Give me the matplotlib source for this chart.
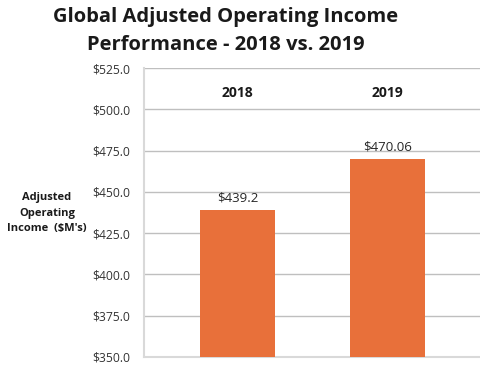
import matplotlib
matplotlib.use("Agg")
from matplotlib import pyplot as plt
from matplotlib.ticker import FuncFormatter

# data
years = ["2018", "2019"]
income = [439.2, 470.06]
value_labels = ["$439.2", "$470.06"]
y_ticks = [350, 375, 400, 425, 450, 475, 500, 525]

plt.rcParams['font.family'] = ['Open Sans', 'DejaVu Sans']

fig = plt.figure(figsize=(4.81, 3.65), dpi=100)
ax = fig.add_axes([144/481, 1-357/365, (481-144)/481, (357-68)/365])

x = range(len(years))
ax.bar(x, income, width=0.5, color='#e8703a', zorder=3)
ax.set_xlim(-0.623, 1.623)
ax.set_ylim(350, 525)
ax.set_yticks(y_ticks)
ax.yaxis.set_major_formatter(FuncFormatter(lambda v, p: f"${v:.1f}"))
ax.tick_params(axis='y', length=0, pad=10, labelsize=8.7, labelcolor='#333333')
ax.set_xticks([])
ax.grid(axis='y', color='#bfbfbf', linewidth=1, zorder=0)

for s in ['top', 'right']:
    ax.spines[s].set_visible(False)
for s in ['left', 'bottom']:
    ax.spines[s].set_color('#d9d9d9')
    ax.spines[s].set_linewidth(1.5)

# category labels across the top
for i, yr in enumerate(years):
    ax.text(i, 510, yr, ha='center', va='center', fontsize=10, fontweight='bold', color='#1a1a1a')
    ax.text(i, income[i] + 3, value_labels[i], ha='center', va='bottom', fontsize=9.5, color='#262626')

fig.text(47/481, 1-213/365, "Adjusted\nOperating\nIncome  ($M's)", ha='center', va='center',
         fontsize=8, fontweight='bold', color='#1a1a1a', linespacing=1.6)

fig.text(226/481, 1-31/365, "Global Adjusted Operating Income\nPerformance - 2018 vs. 2019",
         ha='center', va='center', fontsize=14.5, fontweight='bold', color='#1a1a1a', linespacing=1.55)

fig.savefig("out.png", dpi=100)
